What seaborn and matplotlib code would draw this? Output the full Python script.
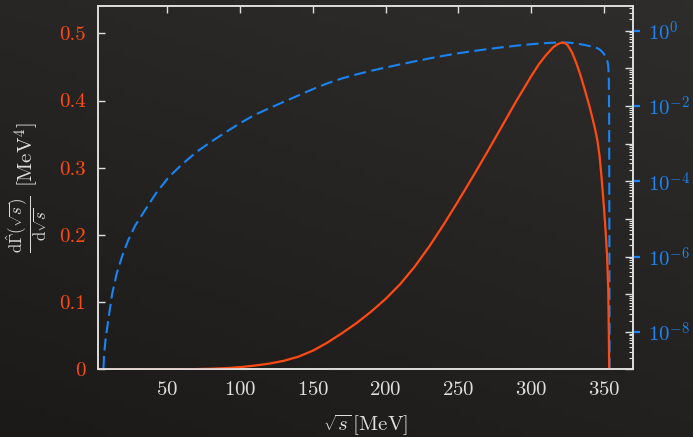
import numpy as np
import pandas as pd
import matplotlib
matplotlib.use("Agg")
import matplotlib.pyplot as plt
import matplotlib.ticker as mticker
import seaborn as sns

# values (same curve drawn on the linear and the log axis)
sqrt_s = [2.3, 5.6, 6.0, 6.5, 7.5, 9.4, 12.0, 15.2, 19.0, 23.2, 28.0, 34.6,
          42.0, 50.7, 60.0, 70.0, 80.0, 90.0, 100.0, 110.0, 120.0, 130.0,
          140.0, 150.0, 160.0, 170.0, 180.0, 190.0, 200.0, 210.0, 220.0,
          230.0, 240.0, 250.0, 260.0, 270.0, 280.0, 290.0, 300.0, 305.0,
          310.0, 315.0, 318.0, 320.0, 321.5, 323.0, 325.0, 328.0, 331.0,
          334.0, 337.0, 340.0, 342.0, 344.0, 345.5, 347.0, 348.5, 350.0,
          351.2, 352.2, 353.0, 353.4, 353.6, 353.7, 353.8, 353.9, 354.0]
rate = [0.0, 1e-10, 1e-9, 2.5e-9, 6.3e-9, 2.1e-8, 1.0e-7, 3.6e-7, 1.05e-6,
        2.8e-6, 6.8e-6, 1.7e-5, 4.7e-5, 1.26e-4, 2.8e-4, 6.0e-4, 1.12e-3,
        2.0e-3, 3.5e-3, 5.8e-3, 8.7e-3, 0.0129, 0.019, 0.028, 0.040, 0.054,
        0.069, 0.086, 0.105, 0.127, 0.153, 0.183, 0.216, 0.251, 0.287, 0.324,
        0.362, 0.400, 0.436, 0.453, 0.467, 0.479, 0.4835, 0.4855, 0.486,
        0.4855, 0.4825, 0.472, 0.456, 0.437, 0.415, 0.392, 0.375, 0.357,
        0.341, 0.318, 0.283, 0.242, 0.205, 0.168, 0.118, 0.05, 5e-3, 1e-4,
        1e-6, 1e-8, 0.0]

x_ticks = [50, 100, 150, 200, 250, 300, 350]
lin_ticks = [0, 0.1, 0.2, 0.3, 0.4, 0.5]
lin_labels = ["0", "0.1", "0.2", "0.3", "0.4", "0.5"]
log_ticks = [1e0, 1e-2, 1e-4, 1e-6, 1e-8]
log_labels = [r"$10^{0}$", r"$10^{-2}$", r"$10^{-4}$", r"$10^{-6}$", r"$10^{-8}$"]

ORANGE = "#ff4a12"
BLUE = "#1a84f2"
FG = "#dedede"
BG = "#242321"

sns.set_style("dark")
plt.rcParams["font.family"] = ["cmr10", "DejaVu Serif"]
plt.rcParams["mathtext.fontset"] = "cm"
plt.rcParams["axes.formatter.use_mathtext"] = True
plt.rcParams["axes.unicode_minus"] = False

df = pd.DataFrame({"sqrt_s": sqrt_s, "rate": rate})

fig = plt.figure(figsize=(6.93, 4.37), dpi=100, facecolor=BG)

# chalkboard-ish background shading
bg = fig.add_axes([0, 0, 1, 1], zorder=-10)
gy, gx = np.mgrid[0:1:60j, 0:1:90j]
shade = 0.35 * gx + 0.65 * gy
bg.imshow(shade, cmap=sns.blend_palette(["#1b1a18", "#2e2d2b"], as_cmap=True),
          aspect="auto", origin="lower", extent=[0, 1, 0, 1])
bg.set_axis_off()

ax = fig.add_axes([0.1414, 0.1545, 0.7716, 0.8318])
ax.set_facecolor("none")

# log axis (blue, dashed)
ax2 = ax.twinx()
sns.lineplot(data=df, x="sqrt_s", y="rate", ax=ax2, color=BLUE, lw=1.5,
             linestyle=(0, (5.8, 2.6)))
ax2.set_yscale("log")
ax2.set_ylim(1e-9, 10 ** 0.656)
ax2.yaxis.set_major_locator(mticker.LogLocator(base=10, numticks=20))
ax2.yaxis.set_minor_locator(mticker.LogLocator(base=10, subs=np.arange(2, 10), numticks=20))
ax2.yaxis.set_major_formatter(mticker.NullFormatter())
ax2.yaxis.set_minor_formatter(mticker.NullFormatter())
ax2.tick_params(axis="y", which="major", direction="in", length=6, width=1.0, color=FG)
ax2.tick_params(axis="y", which="minor", direction="in", length=3, width=0.8, color=FG)
ax2.set_ylabel("")

# blue outer ticks + labels
ax3 = ax.twinx()
ax3.set_yscale("log")
ax3.set_ylim(ax2.get_ylim())
ax3.set_yticks(log_ticks)
ax3.set_yticklabels(log_labels)
ax3.yaxis.set_minor_locator(mticker.NullLocator())
ax3.tick_params(axis="y", which="major", direction="out", length=5, width=1.6,
                color=BLUE, labelcolor=BLUE, labelsize=15, pad=6)
for s in ax3.spines.values():
    s.set_visible(False)

# linear axis (orange, solid) on top
sns.lineplot(data=df, x="sqrt_s", y="rate", ax=ax, color=ORANGE, lw=1.6)
ax.set_zorder(ax3.get_zorder() + 1)
ax.set_xlim(2.3, 369.8)
ax.set_ylim(0, 0.5406)
ax.set_xticks(x_ticks)
ax.set_yticks(lin_ticks)
ax.set_yticklabels(lin_labels)
ax.tick_params(axis="x", direction="in", length=5, width=1.0, color=FG,
               labelcolor=FG, labelsize=15, pad=8, top=True)
ax.tick_params(axis="y", direction="in", length=5, width=1.0, color=FG,
               labelcolor=ORANGE, labelsize=15, pad=9)
for s in list(ax.spines.values()) + list(ax2.spines.values()):
    s.set_color(FG)
    s.set_linewidth(1.2)
    s.set_visible(True)
ax.grid(False)
ax2.grid(False)

ax.set_xlabel(r"$\sqrt{s}\,[\mathrm{MeV}]$", color=FG, fontsize=15)
ax.xaxis.set_label_coords(0.5, -0.12)
ax.xaxis.label.set_va("top")
ax.set_ylabel("")

# y label: fraction + unit, rotated
fig.text(27 / 693, 1 - 224 / 437,
         r"$\dfrac{\mathrm{d}\hat{\Gamma}(\sqrt{s})}{\mathrm{d}\sqrt{s}}$",
         rotation=90, ha="center", va="center", fontsize=12, color=FG)
fig.text(27 / 693, 1 - 155 / 437, r"$[\mathrm{MeV}^4]$",
         rotation=90, ha="center", va="center", fontsize=15, color=FG)

fig.savefig("out.png", dpi=100, facecolor=BG)
